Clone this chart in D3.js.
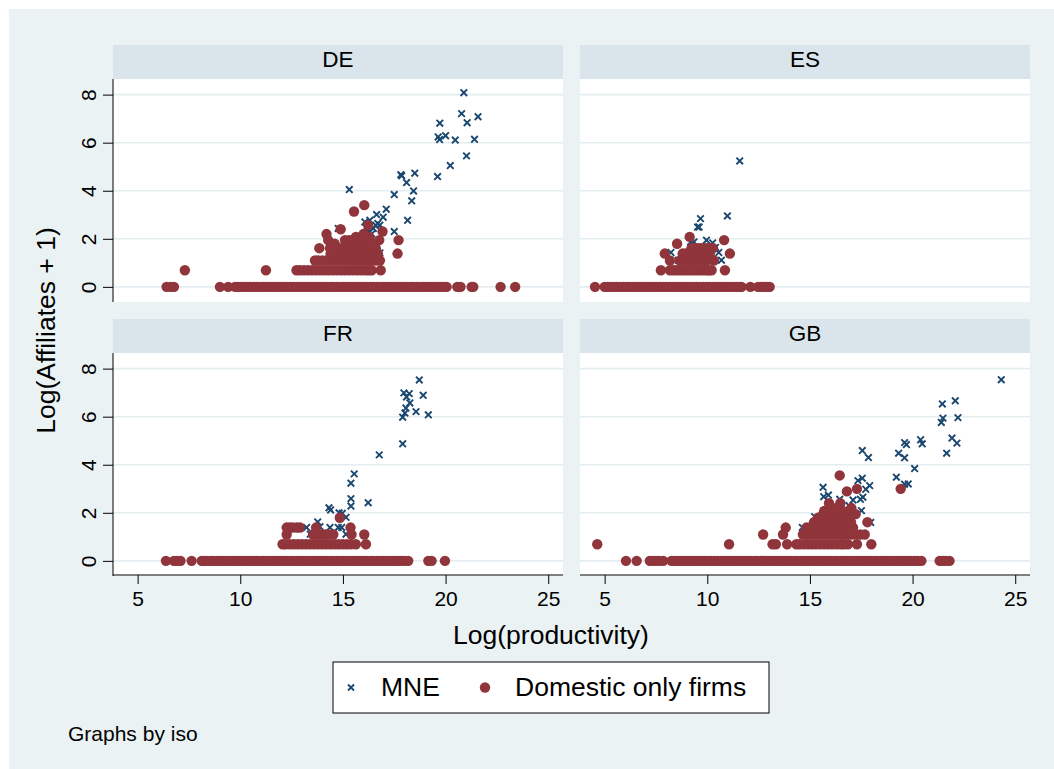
<!DOCTYPE html>
<html><head><meta charset="utf-8">
<script src="https://cdn.jsdelivr.net/npm/d3@7"></script>
<style>body{margin:0;background:#fff;} text{font-family:"Liberation Sans",Arial,Helvetica,sans-serif;fill:#000;}</style>
</head><body><svg id="chart" width="1054" height="769"></svg>
<script>
// ---------- data ----------
const panels = ["DE", "ES", "FR", "GB"];
const xTicks = [5, 10, 15, 20, 25];
const yTicks = [0, 2, 4, 6, 8];
const seriesNames = ["MNE", "Domestic only firms"];
const xTitle = "Log(productivity)";
const yTitle = "Log(Affiliates + 1)";
const note = "Graphs by iso";

// MNE points: [log productivity, log(affiliates+1)]
const deMNE = [[20.89,8.08],[20.78,7.21],[21.58,7.08],[21.05,6.83],[19.72,6.81],[19.64,6.24],[19.71,6.13],[20.0,6.29],[20.47,6.11],[21.41,6.14],[21.02,5.45],[20.23,5.05],[19.61,4.59],[17.82,4.67],[17.86,4.62],[18.5,4.73],[18.1,4.34],[18.44,3.99],[18.35,3.58],[17.5,3.84],[18.15,2.77],[17.5,2.30],[17.11,3.23],[16.96,2.90],[16.64,3.01],[16.31,2.77],[16.07,2.70],[16.8,2.57],[16.48,2.43],[16.15,2.49],[15.31,4.05],[14.77,2.43],[15.15,1.46],[15.91,2.08],[16.8,1.41],[16.6,2.56],[16.2,2.3],[15.8,1.95],[16.4,2.2],[15.5,1.79],[16.0,1.61],[15.7,1.39],[16.7,2.64]];
const esMNE = [[11.58,5.24],[10.98,2.95],[9.67,2.84],[9.53,2.49],[9.60,2.49],[9.35,1.87],[9.96,1.94],[10.26,1.83],[10.40,1.64],[10.56,1.43],[10.69,1.11],[8.23,1.43],[8.58,1.11],[9.80,1.39],[9.19,1.87],[9.9,1.1],[10.1,1.61]];
const frMNE = [[18.72,7.53],[17.97,6.99],[18.23,6.96],[18.91,6.89],[18.10,6.82],[18.26,6.57],[18.07,6.36],[18.02,6.15],[17.91,5.98],[18.56,6.21],[19.16,6.08],[17.91,4.87],[16.77,4.41],[15.55,3.62],[15.39,3.23],[15.39,2.59],[15.39,2.28],[16.23,2.42],[14.32,2.21],[14.40,2.12],[14.81,2.00],[14.97,1.98],[15.15,1.81],[13.77,1.62],[13.23,1.39],[14.37,1.39],[14.77,1.39],[14.94,1.39],[13.41,1.11],[15.15,1.11],[13.88,1.42]];
const gbMNE = [[24.32,7.54],[22.08,6.66],[21.45,6.53],[22.21,5.96],[21.48,5.94],[21.40,5.76],[21.92,5.11],[22.16,4.90],[21.66,4.48],[20.39,5.04],[20.47,4.87],[19.61,4.92],[19.70,4.84],[19.32,4.48],[19.61,4.29],[20.10,3.84],[19.21,3.48],[19.61,3.19],[19.79,3.20],[17.55,4.59],[17.85,4.30],[17.55,3.44],[17.34,3.34],[17.91,3.13],[17.72,2.98],[15.64,3.06],[15.90,2.74],[15.67,2.67],[17.58,2.65],[17.46,2.56],[17.10,2.53],[16.45,2.56],[17.51,2.09],[16.74,1.73],[17.96,1.60],[14.63,1.39],[15.23,1.84],[15.96,2.19],[16.9,2.3],[16.2,2.0]];

// Domestic-only firms, grouped by affiliate level: [log(affiliates+1), [log productivity ...]]
const deDom = [
  [0, [6.41,6.61,6.77,9.01,9.41,9.75,9.9,10.05,10.2,10.35,10.5,10.65,10.8,10.95,11.1,11.25,11.4,11.55,11.7,11.85,12.0,12.15,12.3,12.45,12.6,12.75,12.9,13.05,13.2,13.35,13.5,13.65,13.8,13.95,14.1,14.25,14.4,14.55,14.7,14.85,15.0,15.15,15.3,15.45,15.6,15.75,15.9,16.05,16.2,16.35,16.5,16.65,16.8,16.95,17.1,17.25,17.4,17.55,17.7,17.85,18.0,18.15,18.3,18.45,18.6,18.75,18.9,19.05,19.2,19.35,19.5,19.65,19.8,19.95,20.05,20.57,20.73,21.27,21.35,22.68,23.39]],
  [0.693, [7.30,11.25,12.74,12.9,13.1,13.3,13.5,13.7,13.9,14.1,14.3,14.5,14.7,14.9,15.1,15.3,15.5,15.7,15.9,16.1,16.25,16.4,16.84]],
  [1.099, [13.64,13.8,14.0,14.2,14.4,14.6,14.8,15.0,15.2,15.4,15.6,15.8,16.0,16.2,16.4,16.6,16.8]],
  [1.386, [14.4,14.6,14.8,15.0,15.2,15.4,15.6,15.8,16.0,16.2,16.4,16.6,16.7,17.66]],
  [1.609, [13.85,14.37,14.9,15.1,15.3,15.5,15.7,15.9,16.1,16.3,16.5,16.6]],
  [1.792, [14.6,15.3,15.5,15.7,15.9,16.1,16.3,16.5]],
  [1.946, [14.28,15.1,15.3,15.5,15.8,16.1,16.77,17.71]],
  [2.079, [15.63,15.9,16.28]],
  [2.197, [14.2,16.0]],
  [2.303, [16.93]],
  [2.398, [14.89]],
  [2.565, [16.23]],
  [3.135, [15.54]],
  [3.401, [16.04]]
];
const esDom = [
  [0, [4.53,5.0,5.15,5.3,5.45,5.6,5.75,5.9,6.05,6.2,6.35,6.5,6.65,6.8,6.95,7.1,7.25,7.4,7.55,7.7,7.85,8.0,8.15,8.3,8.45,8.6,8.75,8.9,9.05,9.2,9.35,9.5,9.65,9.8,9.95,10.1,10.25,10.4,10.55,10.7,10.85,11.0,11.15,11.3,11.45,11.6,11.67,12.1,12.47,12.62,12.77,12.92,13.04]],
  [0.693, [7.74,8.18,8.35,8.5,8.65,8.8,8.95,9.1,9.25,9.4,9.55,9.7,9.85,10.0,10.1,10.21,10.86]],
  [1.099, [8.18,8.67,8.85,9.0,9.15,9.3,9.45,9.6,9.75,9.9,9.96,10.32]],
  [1.386, [7.93,8.8,8.95,9.1,9.25,9.4,9.55,9.7,9.85,10.0,10.12,11.1]],
  [1.609, [9.23,9.4,9.55,9.7,9.85,10.0,10.15,10.28]],
  [1.792, [8.53]],
  [1.946, [10.82]],
  [2.079, [9.14]]
];
const frDom = [
  [0, [6.38,6.77,6.93,7.09,7.63,8.12,8.25,8.4,8.55,8.7,8.85,9.0,9.15,9.3,9.45,9.6,9.75,9.9,10.05,10.2,10.35,10.5,10.65,10.8,10.95,11.1,11.25,11.4,11.55,11.7,11.85,12.0,12.15,12.3,12.45,12.6,12.75,12.9,13.05,13.2,13.35,13.5,13.65,13.8,13.95,14.1,14.25,14.4,14.55,14.7,14.85,15.0,15.15,15.3,15.45,15.6,15.75,15.9,16.05,16.2,16.35,16.5,16.65,16.8,16.95,17.1,17.25,17.4,17.55,17.7,17.85,18.0,18.18,19.16,19.32,19.97]],
  [0.693, [12.06,12.2,12.4,12.6,12.8,13.0,13.2,13.4,13.6,13.8,14.0,14.2,14.4,14.6,14.8,15.0,15.2,15.4,15.63,16.12]],
  [1.099, [12.26,13.55,13.7,13.85,14.0,14.15,14.3,14.53,15.42,16.04]],
  [1.386, [12.26,12.4,12.55,12.75,12.91,13.69,15.37]],
  [1.792, [14.85]]
];
const gbDom = [
  [0, [6.04,6.56,7.20,7.35,7.5,7.65,7.85,8.26,8.4,8.55,8.7,8.85,9.0,9.15,9.3,9.45,9.6,9.75,9.9,10.05,10.2,10.35,10.5,10.65,10.8,10.95,11.1,11.25,11.4,11.55,11.7,11.85,12.0,12.15,12.3,12.45,12.6,12.75,12.9,13.05,13.2,13.35,13.5,13.65,13.8,13.95,14.1,14.25,14.4,14.55,14.7,14.85,15.0,15.15,15.3,15.45,15.6,15.75,15.9,16.05,16.2,16.35,16.5,16.65,16.8,16.95,17.1,17.25,17.4,17.55,17.7,17.85,18.0,18.15,18.3,18.45,18.6,18.75,18.9,19.05,19.2,19.35,19.5,19.65,19.8,19.95,20.1,20.25,20.43,21.32,21.47,21.62,21.8]],
  [0.693, [4.64,11.06,13.18,13.34,13.89,14.34,14.5,14.7,14.9,15.1,15.3,15.5,15.7,15.9,16.1,16.3,16.5,16.65,16.85,17.29,17.99]],
  [1.099, [12.72,13.69,14.66,14.85,15.05,15.25,15.45,15.65,15.85,16.05,16.25,16.45,16.65,16.85,17.05,17.25,17.45,17.67]],
  [1.386, [13.82,14.83,15.0,15.2,15.4,15.6,15.8,16.0,16.2,16.4,16.6,16.8,17.0,17.10]],
  [1.609, [15.2,15.4,15.6,15.8,16.0,16.2,16.4,16.6,16.8,17.0,17.80]],
  [1.792, [15.4,15.6,15.8,16.0,16.2,16.4,16.6,16.9]],
  [1.946, [15.64,15.9,16.2,16.5,17.23]],
  [2.079, [15.7,16.0,16.6,16.9]],
  [2.197, [16.3,17.02]],
  [2.398, [15.93,16.48]],
  [2.890, [16.80]],
  [2.996, [17.29,19.42]],
  [3.555, [16.45]]
];

const mneByIso = {DE: deMNE, ES: esMNE, FR: frMNE, GB: gbMNE};
const domByIso = {DE: deDom, ES: esDom, FR: frDom, GB: gbDom};

// ---------- layout ----------
const navy = "#1a476f", maroon = "#90353b";
const bg = "#eaf2f3", strip = "#d9e5ea", grid = "#e4edf0";
const colLeft = [113, 580], rowTop = [79, 353];
const pw = 450, ph = 223, stripH = 34;

const svg = d3.select("#chart");
svg.append("rect").attr("x", 9).attr("y", 9).attr("width", 1045).attr("height", 760).attr("fill", bg);

const x = d3.scaleLinear().domain([3.8, 25.72]).range([0, pw]);
const y = d3.scaleLinear().domain([-0.63, 8.65]).range([ph, 0]);

panels.forEach((iso, i) => {
  const col = i % 2, row = Math.floor(i / 2);
  const g = svg.append("g").attr("transform", `translate(${colLeft[col]},${rowTop[row]})`);
  // strip
  g.append("rect").attr("x", 0).attr("y", -stripH).attr("width", pw).attr("height", stripH).attr("fill", strip);
  g.append("text").attr("x", pw / 2).attr("y", -stripH + 22).attr("text-anchor", "middle")
    .attr("font-size", 22.5).text(iso);
  // plot region
  g.append("rect").attr("width", pw).attr("height", ph).attr("fill", "#fff");
  g.selectAll("line.grid").data(yTicks).join("line").attr("class", "grid")
    .attr("x1", 0).attr("x2", pw).attr("y1", d => y(d)).attr("y2", d => y(d))
    .attr("stroke", grid).attr("stroke-width", 1.6);

  // MNE markers
  g.append("g").selectAll("path").data(mneByIso[iso]).join("path")
    .attr("transform", d => `translate(${x(d[0])},${y(d[1])})`)
    .attr("d", "M-3.3,-3.3L3.3,3.3M-3.3,3.3L3.3,-3.3")
    .attr("stroke", navy).attr("stroke-width", 1.9).attr("fill", "none");
  // Domestic markers
  const dom = domByIso[iso].flatMap(([yy, xs]) => xs.map(xx => [xx, yy]));
  g.append("g").selectAll("circle").data(dom).join("circle")
    .attr("cx", d => x(d[0])).attr("cy", d => y(d[1])).attr("r", 5.2).attr("fill", maroon);

  if (col === 0) {
    const ay = d3.axisLeft(y).tickValues(yTicks).tickSize(10).tickFormat(d3.format("d"));
    const ga = g.append("g").call(ay);
    ga.select(".domain").attr("d", `M0,0V${ph}`).attr("stroke", "#000");
    ga.selectAll(".tick line").attr("stroke", "#000");
    ga.selectAll(".tick text").attr("font-size", 21).attr("x", null).attr("dy", null)
      .attr("text-anchor", "middle").attr("transform", "translate(-17,0) rotate(-90)")
      .style("font-family", '"Liberation Sans",Arial,sans-serif');
  }
  if (row === 1) {
    const ax = d3.axisBottom(x).tickValues(xTicks).tickSize(9).tickFormat(d3.format("d"));
    const ga = g.append("g").attr("transform", `translate(0,${ph - 1})`).call(ax);
    ga.select(".domain").attr("d", `M0,0H${pw}`).attr("stroke", "#000");
    ga.selectAll(".tick line").attr("stroke", "#000");
    ga.selectAll(".tick text").attr("font-size", 21).attr("y", 31).attr("dy", null)
      .style("font-family", '"Liberation Sans",Arial,sans-serif');
  }
});

// axis titles
svg.append("text").attr("x", 551).attr("y", 644).attr("text-anchor", "middle").attr("font-size", 26.5).text(xTitle);
svg.append("text").attr("transform", "translate(55,330.5) rotate(-90)").attr("text-anchor", "middle").attr("font-size", 26.5).text(yTitle);

// legend
const lg = svg.append("g");
lg.append("rect").attr("x", 333).attr("y", 662).attr("width", 436).attr("height", 51).attr("fill", "#fff").attr("stroke", "#000").attr("stroke-width", 1);
lg.append("path").attr("transform", "translate(351,687.5)").attr("d", "M-3,-3L3,3M-3,3L3,-3")
  .attr("stroke", navy).attr("stroke-width", 1.8);
lg.append("text").attr("x", 381).attr("y", 696).attr("font-size", 26.5).text(seriesNames[0]);
lg.append("circle").attr("cx", 485).attr("cy", 687.5).attr("r", 5.2).attr("fill", maroon);
lg.append("text").attr("x", 515).attr("y", 696).attr("font-size", 26.5).text(seriesNames[1]);

svg.append("text").attr("x", 68).attr("y", 741).attr("font-size", 21).text(note);
</script></body></html>
